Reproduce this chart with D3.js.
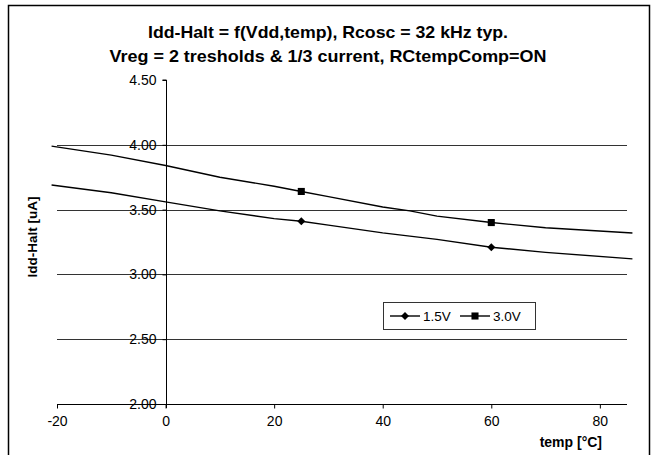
<!DOCTYPE html>
<html>
<head>
<meta charset="utf-8">
<script src="https://cdn.jsdelivr.net/npm/d3@7"></script>
<style>
  body { margin: 0; background: #fff; }
  text { font-family: "Liberation Sans", Arial, sans-serif; }
</style>
</head>
<body>
<div id="chart"></div>
<script>
// chart data
var temps = [-21, -10, 0, 10, 20, 25, 30, 40, 45, 50, 60, 70, 86];
var v15 = [3.69, 3.63, 3.56, 3.49, 3.43, 3.41, 3.38, 3.32, 3.295, 3.27, 3.21, 3.17, 3.12];
var v30 = [3.99, 3.92, 3.84, 3.75, 3.68, 3.64, 3.60, 3.52, 3.49, 3.45, 3.40, 3.36, 3.32];
var markTemps = [25, 60];
var xTicks = [-20, 0, 20, 40, 60, 80];
var yTicks = [2.0, 2.5, 3.0, 3.5, 4.0, 4.5];
var seriesNames = ["1.5V", "3.0V"];

var svgWidth = 653, svgHeight = 455;

var svg = d3.select("#chart").append("svg")
    .attr("width", svgWidth)
    .attr("height", svgHeight);

// outer chart border (bottom runs off the picture)
svg.append("path")
    .attr("d", "M8.5,460 V5.5 H649.5 V460")
    .attr("fill", "none")
    .attr("stroke", "#000")
    .attr("stroke-width", 1.5);

var x = d3.scaleLinear().domain([-20, 85]).range([57, 627]);
var y = d3.scaleLinear().domain([2.0, 4.5]).range([404, 80]);

// gridlines
svg.append("g")
    .selectAll("line")
    .data(yTicks.filter(d => d < 4.5))
    .enter()
    .append("line")
    .attr("x1", x(-20))
    .attr("x2", x(85))
    .attr("y1", d => Math.round(y(d)) + 0.5)
    .attr("y2", d => Math.round(y(d)) + 0.5)
    .attr("stroke", "#333")
    .attr("stroke-width", 1);

// y axis at x = 0
var yAxis = svg.append("g")
    .attr("transform", `translate(${Math.round(x(0)) + 0.5},0)`)
    .call(d3.axisLeft(y).tickValues(yTicks).tickFormat(d => d.toFixed(2)).tickSize(4).tickPadding(6));
yAxis.select(".domain").attr("d", `M-4,${y(4.5)}H0V${y(2.0) + 4}`).attr("stroke", "#000");
yAxis.selectAll("text").attr("font-size", "14px").attr("font-family", "Liberation Sans, Arial, sans-serif").attr("fill", "#000");

// x axis at y = 2.0
var xAxis = svg.append("g")
    .attr("transform", `translate(0,${Math.round(y(2.0)) + 0.5})`)
    .call(d3.axisBottom(x).tickValues(xTicks).tickFormat(d => String(d)).tickSize(4).tickPadding(8));
xAxis.select(".domain").attr("d", `M${x(-20)},0H${x(85)}`).attr("stroke", "#000");
xAxis.selectAll("text").attr("font-size", "14px").attr("font-family", "Liberation Sans, Arial, sans-serif").attr("fill", "#000");

// curves
var line = d3.line()
    .x((d, i) => x(temps[i]))
    .y(d => y(d));

[v15, v30].forEach(function(vals) {
    svg.append("path")
        .datum(vals)
        .attr("d", line)
        .attr("fill", "none")
        .attr("stroke", "#000")
        .attr("stroke-width", 1.4);
});

// markers at measured points (Excel style square diamond)
var excelDiamond = {
    draw: function(ctx, size) {
        var r = Math.sqrt(size / 2);
        ctx.moveTo(0, -r); ctx.lineTo(r, 0); ctx.lineTo(0, r); ctx.lineTo(-r, 0); ctx.closePath();
    }
};
var diamond = d3.symbol().type(excelDiamond).size(32);
var square = d3.symbol().type(d3.symbolSquare).size(50);

svg.append("g").selectAll("path")
    .data(markTemps)
    .enter()
    .append("path")
    .attr("d", diamond)
    .attr("transform", d => `translate(${x(d)},${y(v15[temps.indexOf(d)])})`)
    .attr("fill", "#000");

svg.append("g").selectAll("path")
    .data(markTemps)
    .enter()
    .append("path")
    .attr("d", square)
    .attr("transform", d => `translate(${x(d)},${y(v30[temps.indexOf(d)])})`)
    .attr("fill", "#000");

// legend
var legend = svg.append("g");
legend.append("rect")
    .attr("x", 383.5).attr("y", 302.5)
    .attr("width", 152).attr("height", 27)
    .attr("fill", "#fff")
    .attr("stroke", "#333");

var legendItems = [
    { name: seriesNames[0], sym: diamond, x0: 390 },
    { name: seriesNames[1], sym: square, x0: 460 }
];
legendItems.forEach(function(it) {
    legend.append("line")
        .attr("x1", it.x0).attr("x2", it.x0 + 30)
        .attr("y1", 316).attr("y2", 316)
        .attr("stroke", "#000").attr("stroke-width", 1.4);
    legend.append("path")
        .attr("d", it.sym)
        .attr("transform", `translate(${it.x0 + 15},316)`)
        .attr("fill", "#000");
    legend.append("text")
        .attr("x", it.x0 + 33).attr("y", 321)
        .attr("font-size", "13.5px")
        .text(it.name);
});

// title
svg.append("text")
    .attr("x", 328).attr("y", 38)
    .attr("text-anchor", "middle")
    .attr("font-size", "17px")
    .attr("font-weight", "bold")
    .attr("textLength", 360)
    .attr("lengthAdjust", "spacingAndGlyphs")
    .text("Idd-Halt = f(Vdd,temp), Rcosc = 32 kHz typ.");

svg.append("text")
    .attr("x", 328).attr("y", 62)
    .attr("text-anchor", "middle")
    .attr("font-size", "17px")
    .attr("font-weight", "bold")
    .attr("textLength", 437)
    .attr("lengthAdjust", "spacingAndGlyphs")
    .text("Vreg = 2 tresholds & 1/3 current, RCtempComp=ON");

// axis labels
svg.append("text")
    .attr("transform", "translate(37,237) rotate(-90)")
    .attr("text-anchor", "middle")
    .attr("font-size", "13.5px")
    .attr("font-weight", "bold")
    .text("Idd-Halt [uA]");

svg.append("text")
    .attr("x", 602).attr("y", 447)
    .attr("text-anchor", "end")
    .attr("font-size", "14px")
    .attr("font-weight", "bold")
    .text("temp [°C]");
</script>
</body>
</html>
